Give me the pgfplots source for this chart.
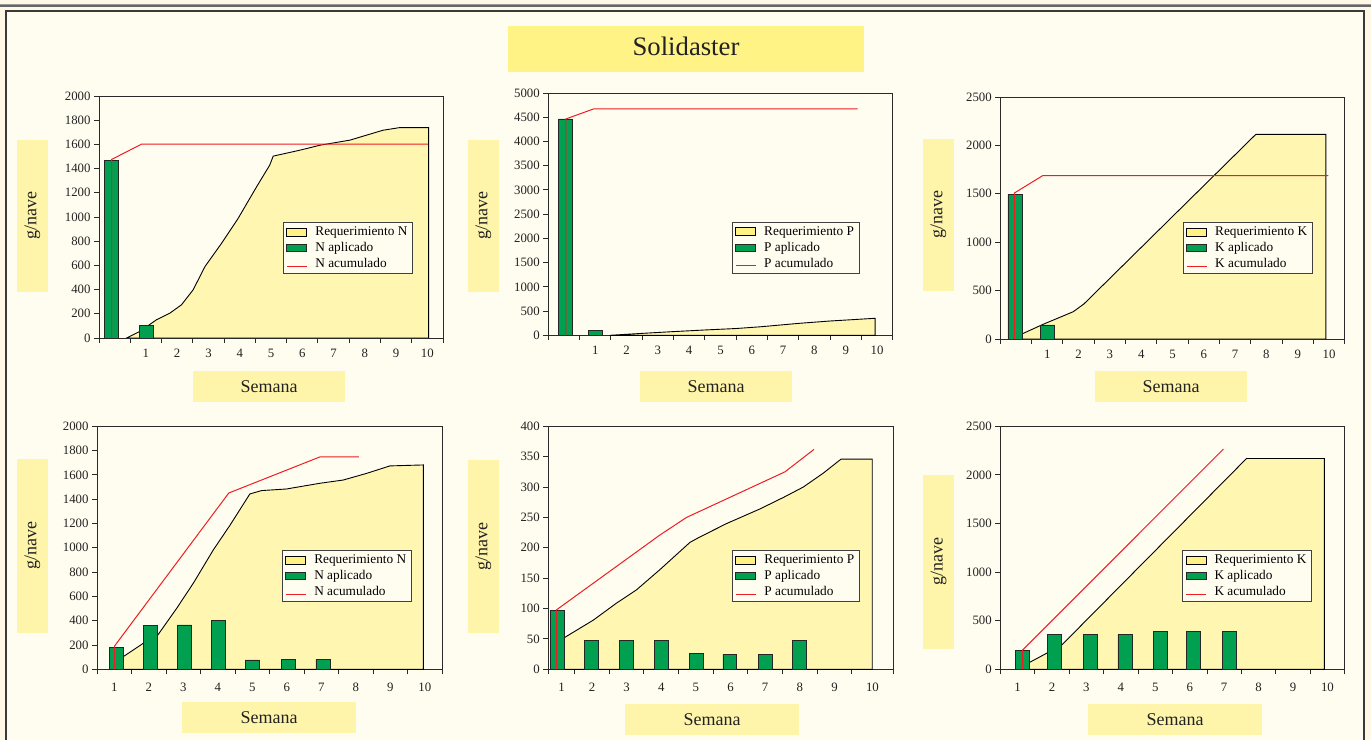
\documentclass[border=0pt]{standalone}
\usepackage{fontspec}
\setmainfont{Liberation Serif}
\usepackage{pgfplots}
\pgfplotsset{compat=1.18}

\definecolor{bgc}{HTML}{FFFDF0}
\definecolor{outc}{HTML}{FFF8E4}
\definecolor{framec}{HTML}{3A3A3A}
\definecolor{areac}{HTML}{FFF6B2}
\definecolor{swatc}{HTML}{FFF184}
\definecolor{boxc}{HTML}{FFF5AA}
\definecolor{titc}{HTML}{FFF386}
\definecolor{barc}{HTML}{00A050}
\definecolor{redc}{HTML}{EE1C25}
\definecolor{axc}{HTML}{2A2A2A}
\definecolor{txc}{HTML}{222222}

\pgfplotsset{
  panel/.style={
    scale only axis, anchor=south west,
    axis line style={draw=axc, line width=0.9pt},
    tick style={draw=axc, line width=0.9pt},
    tick align=outside, xtick pos=left, ytick pos=left,
    major tick length=5pt,
    x tick label as interval,
    tick label style={font=\fontsize{12.8}{14}\selectfont, text=txc},
    /pgf/number format/assume math mode=true,
    /pgf/number format/1000 sep={},
    scaled y ticks=false,
    ymin=0,
    legend cell align=left,
    legend style={anchor=north west, draw=black!75, line width=0.9pt, fill=bgc,
      font=\fontsize{13.3}{16}\selectfont, inner xsep=3pt, inner ysep=1.5pt,
      nodes={inner sep=2pt, text height=9.5pt, text depth=2.5pt}, row sep=0pt},
  },
  toprow/.style={xticklabel style={yshift=-2.5pt}},
  botrow/.style={xticklabel style={yshift=-5.5pt}},
  req/.style={fill=areac, draw=black, line width=0.9pt,
    legend image code/.code={\draw[fill=swatc, draw=black, line width=0.8pt] (0pt,-4pt) rectangle (20pt,4pt); \path (26pt,0pt);}},
  apl/.style={ybar, bar width=#1, fill=barc, draw=black!85, line width=0.8pt,
    legend image code/.code={\draw[fill=barc, draw=black!85, line width=0.8pt] (0pt,-3.5pt) rectangle (20pt,3.5pt); \path (26pt,0pt);}},
  acu/.style={draw=redc, line width=1pt, mark=none,
    legend image code/.code={\draw[redc, line width=0.8pt] (0pt,-2pt) -- (20pt,-2pt); \path (26pt,0pt);}},
}

\begin{document}
\begin{tikzpicture}[x=1pt,y=1pt]
\path[use as bounding box] (0,0) rectangle (1371,740);
% page and frame
\fill[outc] (0,0) rectangle (1371,740);
\fill[black!40] (0,736) rectangle (1371,735.2);
\fill[black!60] (0,734.8) rectangle (1371,733.3);
\fill[bgc] (5.7,0) rectangle (1364.3,728.5);
\draw[framec, line width=2pt] (5.7,0) -- (5.7,728.5) -- (1364.3,728.5) -- (1364.3,0);

% title
\fill[titc] (507.7,668.3) rectangle (864,714);
\node[font=\fontsize{26.7}{30}\selectfont, text=txc] at (686,693.7) {Solidaster};

% y label boxes
\fill[boxc] (17,448) rectangle (48,600);
\node[rotate=90, font=\fontsize{18}{20}\selectfont, text=txc] at (32.5,524) {g/nave};
\fill[boxc] (468,448) rectangle (499,600);
\node[rotate=90, font=\fontsize{18}{20}\selectfont, text=txc] at (483.5,524) {g/nave};
\fill[boxc] (923,449) rectangle (953.7,601);
\node[rotate=90, font=\fontsize{18}{20}\selectfont, text=txc] at (938.4,525) {g/nave};
\fill[boxc] (17,107.3) rectangle (48,281);
\node[rotate=90, font=\fontsize{18}{20}\selectfont, text=txc] at (32.5,194.2) {g/nave};
\fill[boxc] (468,107) rectangle (499,280);
\node[rotate=90, font=\fontsize{18}{20}\selectfont, text=txc] at (483.5,193.5) {g/nave};
\fill[boxc] (923,91.3) rectangle (954,265);
\node[rotate=90, font=\fontsize{18}{20}\selectfont, text=txc] at (938.5,178.2) {g/nave};

% x label boxes
\fill[boxc] (193,338.3) rectangle (345,369);
\node[font=\fontsize{18}{20}\selectfont, text=txc] at (269,353.7) {Semana};
\fill[boxc] (640,338) rectangle (792,369);
\node[font=\fontsize{18}{20}\selectfont, text=txc] at (716,353.5) {Semana};
\fill[boxc] (1095,338) rectangle (1247,369);
\node[font=\fontsize{18}{20}\selectfont, text=txc] at (1171,353.5) {Semana};
\fill[boxc] (182,7.3) rectangle (356,38);
\node[font=\fontsize{18}{20}\selectfont, text=txc] at (269,22.7) {Semana};
\fill[boxc] (625,5) rectangle (799,36);
\node[font=\fontsize{18}{20}\selectfont, text=txc] at (712,20.5) {Semana};
\fill[boxc] (1088,5) rectangle (1262,36);
\node[font=\fontsize{18}{20}\selectfont, text=txc] at (1175,20.5) {Semana};

% ---- N, top
\begin{axis}[panel, toprow, at={(99pt,402pt)}, width=344pt, height=242pt,
  xmin=-0.5, xmax=10.5, ymax=2000, ytick={0,200,...,2000},
  xtick={-0.5,0.5,...,10.5}, xticklabels={,1,2,3,4,5,6,7,8,9,10},
  legend style={at={(0.535,0.479)}}]
\addplot[req] coordinates {(0.38,0) (0.81,55) (1.34,151) (1.77,206) (2.14,275) (2.51,398) (2.89,591) (3.42,783) (3.95,989) (4.54,1250) (4.96,1429) (5.07,1503) (5.92,1552) (6.56,1593) (7.52,1635) (8.05,1676) (8.58,1717) (9.12,1739) (10.04,1739) (10.04,0)} \closedcycle;
\addplot[apl=0.45] coordinates {(-0.1,1467) (1.02,102)};
\addplot[acu] coordinates {(-0.1,0) (-0.1,1475) (0.86,1602) (10.02,1602)};
\legend{Requerimiento N, N aplicado, N acumulado}
\end{axis}

% ---- P, top
\begin{axis}[panel, toprow, at={(548.3pt,404.7pt)}, width=344.4pt, height=242.3pt,
  xmin=-0.5, xmax=10.5, ymax=5000, ytick={0,500,...,5000},
  xtick={-0.5,0.5,...,10.5}, xticklabels={,1,2,3,4,5,6,7,8,9,10},
  legend style={at={(0.533,0.468)}}]
\addplot[req] coordinates {(1.47,0) (2.5,40) (3.49,76) (4.5,110) (5.5,140) (6.3,177) (7.53,248) (8.5,295) (9.94,351) (9.94,0)} \closedcycle;
\addplot[apl=0.45] coordinates {(0.05,4464) (1.0,95)};
\addplot[acu] coordinates {(0.06,0) (0.06,4464) (0.94,4670) (9.38,4670)};
\legend{Requerimiento P, P aplicado, P acumulado}
\end{axis}

% ---- K, top
\begin{axis}[panel, toprow, at={(1000.3pt,401pt)}, width=344.4pt, height=242pt,
  xmin=-0.5, xmax=10.5, ymax=2500, ytick={0,500,...,2500},
  xtick={-0.5,0.5,...,10.5}, xticklabels={,1,2,3,4,5,6,7,8,9,10},
  legend style={at={(0.530,0.483)}}]
\addplot[req] coordinates {(0.0,0) (0.0,25) (0.19,52) (0.87,152) (1.83,282) (2.17,362) (7.66,2114) (9.9,2114) (9.9,0)} \closedcycle;
\addplot[apl=0.45] coordinates {(-0.03,1494) (1.01,145)};
\addplot[acu] coordinates {(-0.05,0) (-0.05,1508) (0.85,1687) (9.98,1687)};
\legend{Requerimiento K, K aplicado, K acumulado}
\end{axis}

% ---- N, bottom
\begin{axis}[panel, botrow, at={(97pt,70.7pt)}, width=345pt, height=243pt,
  xmin=0.5, xmax=10.5, ymax=2000, ytick={0,200,...,2000},
  xtick={0.5,1.5,...,10.5}, xticklabels={1,2,3,4,5,6,7,8,9,10},
  legend style={at={(0.536,0.491)}}]
\addplot[req] coordinates {(1.0,0) (1.0,62) (1.26,104) (1.84,214) (2.23,269) (2.81,502) (3.29,708) (3.87,982) (4.36,1188) (4.93,1443) (5.27,1471) (5.99,1484) (6.96,1531) (7.64,1558) (8.32,1613) (8.99,1674) (9.96,1682) (9.96,0)} \closedcycle;
\addplot[apl=0.41] coordinates {(1.06,181) (2.06,359) (3.04,365) (4.03,403) (5.01,77) (6.04,82) (7.05,82)};
\addplot[acu] coordinates {(1.01,0) (1.01,192) (4.32,1451) (6.96,1748) (8.09,1748)};
\legend{Requerimiento N, N aplicado, N acumulado}
\end{axis}

% ---- P, bottom
\begin{axis}[panel, botrow, at={(548.3pt,70.7pt)}, width=344.7pt, height=243pt,
  xmin=0.74, xmax=10.69, ymax=400, ytick={0,50,...,400},
  xtick={0.74,1.5,2.5,3.5,4.5,5.5,6.5,7.5,8.5,9.5,10.69}, xticklabels={1,2,3,4,5,6,7,8,9,10},
  legend style={at={(0.533,0.491)}}]
\addplot[req] coordinates {(1.0,0) (1.0,45) (1.2,52) (2.04,81) (2.71,109) (3.29,131) (3.96,164) (4.83,209) (5.12,218) (5.89,240) (6.85,264) (7.53,283) (8.1,300) (8.68,323) (9.19,346) (10.09,346) (10.09,0)} \closedcycle;
\addplot[apl=0.40] coordinates {(1.0,97) (1.99,47) (3.0,48) (4.01,47) (5.02,26) (5.98,25) (7.0,25) (8.0,47)};
\addplot[acu] coordinates {(0.98,0) (0.98,98) (3.96,221) (4.73,250) (7.57,325) (8.41,362)};
\legend{Requerimiento P, P aplicado, P acumulado}
\end{axis}

% ---- K, bottom
\begin{axis}[panel, botrow, at={(1000.3pt,70.7pt)}, width=344.4pt, height=243pt,
  xmin=0.5, xmax=10.5, ymax=2500, ytick={0,500,...,2500},
  xtick={0.5,1.5,...,10.5}, xticklabels={1,2,3,4,5,6,7,8,9,10},
  legend style={at={(0.528,0.491)}}]
\addplot[req] coordinates {(1.15,0) (1.15,30) (1.34,69) (2.28,248) (7.65,2169) (9.91,2169) (9.91,0)} \closedcycle;
\addplot[apl=0.41] coordinates {(1.14,197) (2.08,359) (3.12,359) (4.12,359) (5.15,386) (6.11,386) (7.16,393)};
\addplot[acu] coordinates {(1.15,0) (1.15,200) (6.98,2266)};
\legend{Requerimiento K, K aplicado, K acumulado}
\end{axis}
\end{tikzpicture}
\end{document}
